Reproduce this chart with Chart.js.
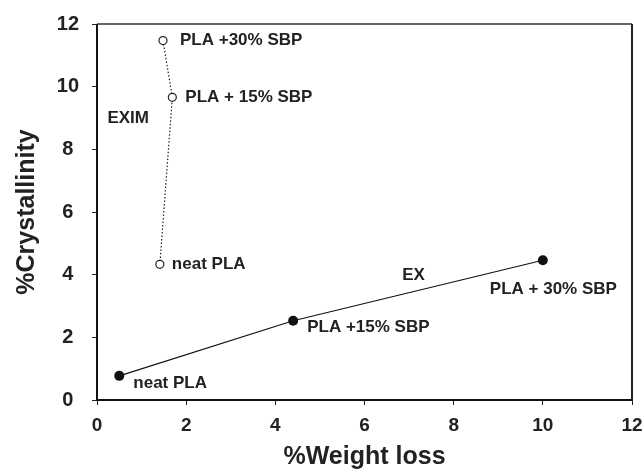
<!DOCTYPE html>
<html>
<head>
  <meta charset="UTF-8" />
  <title>%Crystallinity vs %Weight loss</title>
  <script src="https://cdn.jsdelivr.net/npm/chart.js"></script>
  <style>
    body { margin: 0; background: #fff; }
    #wrap { width: 644px; height: 470px; }
  </style>
</head>
<body>
<div id="wrap"><canvas id="plot"></canvas></div>
<script>
// data
const eximWeightLoss = [1.48, 1.69, 1.41];
const eximCryst = [11.47, 9.66, 4.33];
const eximLabels = ['PLA +30% SBP', 'PLA + 15% SBP', 'neat PLA'];

const exWeightLoss = [0.5, 4.4, 10.0];
const exCryst = [0.77, 2.53, 4.46];
const exLabels = ['neat PLA', 'PLA +15% SBP', 'PLA + 30% SBP'];

const xTicks = [0, 2, 4, 6, 8, 10, 12];
const yTicks = [0, 2, 4, 6, 8, 10, 12];

const fontFam = '"Liberation Sans", Arial, sans-serif';

function toPoints(xs, ys) {
  return xs.map((x, i) => ({ x: x, y: ys[i] }));
}

// label offsets in px from the point, text left-aligned
const labelOffsets = [
  [[17, 0], [13, 0], [12, 0]],
  [[14, 7], [14, 7], [-53, 29]]
];

const pointLabels = {
  id: 'pointLabels',
  afterDatasetsDraw(chart) {
    const c = chart.ctx;
    c.save();
    c.font = 'bold 17px ' + fontFam;
    c.fillStyle = '#222';
    c.textBaseline = 'middle';
    c.textAlign = 'left';
    const texts = [eximLabels, exLabels];
    chart.data.datasets.forEach((ds, di) => {
      chart.getDatasetMeta(di).data.forEach((pt, i) => {
        const o = labelOffsets[di][i];
        c.fillText(texts[di][i], pt.x + o[0], pt.y + o[1]);
      });
    });
    // series names
    const xs = chart.scales.x, ys = chart.scales.y;
    c.textAlign = 'center';
    c.fillText('EXIM', xs.getPixelForValue(0.7), ys.getPixelForValue(9.0));
    c.fillText('EX', xs.getPixelForValue(7.1), ys.getPixelForValue(3.97));
    c.restore();
  }
};

const frame = {
  id: 'frame',
  afterDraw(chart) {
    const a = chart.chartArea, c = chart.ctx;
    c.save();
    c.lineWidth = 2;
    c.strokeStyle = '#666';
    c.beginPath(); c.moveTo(a.left, a.top); c.lineTo(a.right, a.top); c.stroke();
    c.strokeStyle = '#222';
    c.beginPath(); c.moveTo(a.right, a.top); c.lineTo(a.right, a.bottom); c.stroke();
    c.strokeStyle = '#111';
    c.beginPath(); c.moveTo(a.left, a.top); c.lineTo(a.left, a.bottom); c.lineTo(a.right, a.bottom); c.stroke();
    c.restore();
  }
};

new Chart(document.getElementById('plot'), {
  type: 'scatter',
  data: {
    datasets: [
      {
        label: 'EXIM',
        data: toPoints(eximWeightLoss, eximCryst),
        showLine: true,
        borderColor: '#222',
        borderWidth: 1.2,
        borderDash: [1.5, 2],
        pointRadius: 4,
        pointBackgroundColor: '#fff',
        pointBorderColor: '#222',
        pointBorderWidth: 1.2
      },
      {
        label: 'EX',
        data: toPoints(exWeightLoss, exCryst),
        showLine: true,
        borderColor: '#111',
        borderWidth: 1.2,
        pointRadius: 5,
        pointBackgroundColor: '#111',
        pointBorderColor: '#111',
        pointBorderWidth: 0
      }
    ]
  },
  options: {
    responsive: true,
    maintainAspectRatio: false,
    animation: false,
    layout: { padding: { top: 24, right: 12, left: 0, bottom: 0 } },
    plugins: {
      legend: { display: false },
      tooltip: { enabled: false }
    },
    scales: {
      x: {
        type: 'linear',
        min: 0,
        max: 12,
        afterBuildTicks: s => { s.ticks = xTicks.map(v => ({ value: v })); },
        afterFit: s => { s.height = 70; s.paddingLeft = 0; s.paddingRight = 0; },
        grid: { display: true, drawOnChartArea: false, drawTicks: true, tickLength: 5, color: '#222' },
        border: { display: false },
        ticks: { color: '#222', font: { family: fontFam, size: 19, weight: 'bold' }, padding: 9, maxRotation: 0 },
        title: { display: true, text: '%Weight loss', color: '#222', font: { family: fontFam, size: 25, weight: 'bold', lineHeight: 1 }, padding: { top: 0, bottom: 0 } }
      },
      y: {
        type: 'linear',
        min: 0,
        max: 12,
        afterBuildTicks: s => { s.ticks = yTicks.map(v => ({ value: v })); },
        afterFit: s => { s.width = 97; s.paddingTop = 0; s.paddingBottom = 0; },
        grid: { display: true, drawOnChartArea: false, drawTicks: true, tickLength: 5, color: '#222' },
        border: { display: false },
        ticks: { color: '#222', font: { family: fontFam, size: 20, weight: 'bold' }, padding: 13, crossAlign: 'center' },
        title: { display: true, text: '%Crystallinity', color: '#222', font: { family: fontFam, size: 25, weight: 'bold' }, padding: { top: 12, bottom: 0 } }
      }
    }
  },
  plugins: [pointLabels, frame]
});
</script>
</body>
</html>
